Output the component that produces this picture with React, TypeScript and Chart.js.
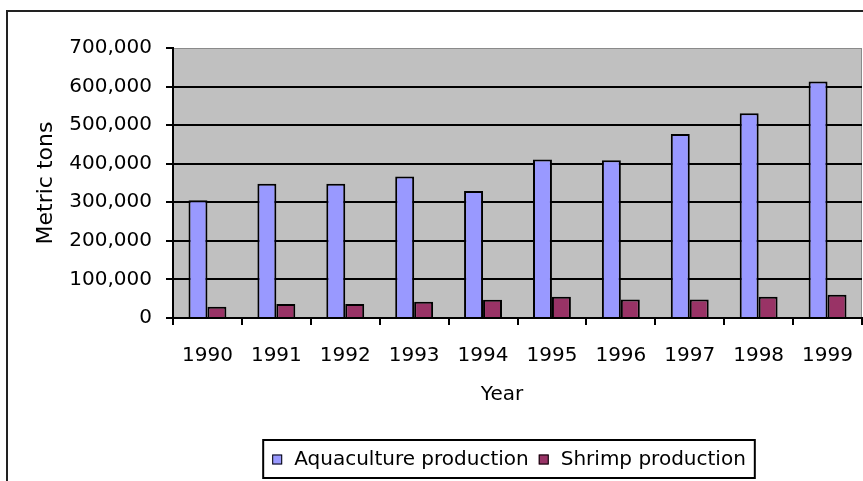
import { useEffect, useRef } from "react";
import { Chart, registerables } from "chart.js";

Chart.register(...registerables);

// Annual production, metric tons
const years = ["1990", "1991", "1992", "1993", "1994", "1995", "1996", "1997", "1998", "1999"];
const aquaculture = [305000, 348000, 348000, 367000, 329000, 411000, 409000, 477000, 531000, 613000];
const shrimp = [29000, 36000, 36000, 42000, 47000, 55000, 48000, 48000, 55000, 60000];
const seriesNames = ["Aquaculture production", "Shrimp production"];
const seriesColors = ["#9999FF", "#993366"];
const yMin = 0;
const yMax = 700000;
const yStep = 100000;
const xTitle = "Year";
const yTitle = "Metric tons";

const FONT = "'DejaVu Sans', Verdana, sans-serif";
const W = 863;
const H = 481;

// Page layout of the chart sheet
const FRAME = { x: 7, y: 11 };
const LEGEND = { cx: 509, top: 440, height: 38, pad: 9, box: 10, boxGap: 12, itemGap: 10 };
const X_TITLE_POS = { x: 502, y: 395 };

const sheetPlugin = {
  id: "sheet",
  beforeDraw(chart: any) {
    const { ctx, chartArea: a, width, height } = chart;
    ctx.save();
    ctx.fillStyle = "#ffffff";
    ctx.fillRect(0, 0, width, height);
    // chart-area border (runs past the right and bottom edges)
    ctx.strokeStyle = "#222222";
    ctx.lineWidth = 2;
    ctx.strokeRect(FRAME.x, FRAME.y, width + 200, height + 200);
    // plot area fill and thin border
    ctx.fillStyle = "#C0C0C0";
    ctx.fillRect(a.left, a.top, a.right - a.left, a.bottom - a.top);
    ctx.strokeStyle = "#8a8a8a";
    ctx.lineWidth = 1;
    ctx.strokeRect(a.left + 0.5, a.top + 0.5, a.right - a.left - 1, a.bottom - a.top);
    ctx.restore();
  },
  afterDraw(chart: any) {
    const { ctx } = chart;
    ctx.save();
    // x-axis title
    ctx.font = `20px ${FONT}`;
    ctx.fillStyle = "#000";
    ctx.textAlign = "center";
    ctx.textBaseline = "middle";
    ctx.fillText(xTitle, X_TITLE_POS.x, X_TITLE_POS.y);

    // boxed legend built from the datasets
    const ds = chart.data.datasets;
    ctx.textAlign = "left";
    const widths = ds.map((d: any) => ctx.measureText(d.label).width);
    let content = 0;
    widths.forEach((w: number, i: number) => {
      content += LEGEND.box + LEGEND.boxGap + w;
      if (i < widths.length - 1) content += LEGEND.itemGap;
    });
    const boxW = content + LEGEND.pad * 2;
    const left = LEGEND.cx - boxW / 2;
    ctx.fillStyle = "#fff";
    ctx.fillRect(left, LEGEND.top, boxW, LEGEND.height);
    ctx.strokeStyle = "#000";
    ctx.lineWidth = 2;
    ctx.strokeRect(left, LEGEND.top, boxW, LEGEND.height);
    const cy = LEGEND.top + LEGEND.height / 2 + 0.5;
    let x = left + LEGEND.pad;
    ds.forEach((d: any, i: number) => {
      ctx.fillStyle = d.backgroundColor;
      ctx.fillRect(x, cy - LEGEND.box / 2, LEGEND.box, LEGEND.box);
      ctx.strokeStyle = "#000";
      ctx.lineWidth = 1;
      ctx.strokeRect(x + 0.5, cy - LEGEND.box / 2 + 0.5, LEGEND.box - 1, LEGEND.box - 1);
      x += LEGEND.box + LEGEND.boxGap;
      ctx.fillStyle = "#000";
      ctx.fillText(d.label, x, cy);
      x += widths[i] + LEGEND.itemGap;
    });
    ctx.restore();
  },
};

export default function App() {
  const canvasRef = useRef<HTMLCanvasElement | null>(null);

  useEffect(() => {
    const canvas = canvasRef.current;
    if (!canvas) return;
    const chart = new Chart(canvas, {
      type: "bar",
      data: {
        labels: years,
        datasets: [
          {
            label: seriesNames[0],
            data: aquaculture,
            backgroundColor: seriesColors[0],
            borderColor: "#000",
            borderWidth: 2,
          },
          {
            label: seriesNames[1],
            data: shrimp,
            backgroundColor: seriesColors[1],
            borderColor: "#000",
            borderWidth: 2,
          },
        ],
      },
      options: {
        animation: false,
        responsive: false,
        maintainAspectRatio: false,
        events: [],
        datasets: { bar: { categoryPercentage: 0.55, barPercentage: 1.0 } },
        layout: { padding: { left: 0, top: 48, right: 1, bottom: 103 } },
        plugins: {
          legend: { display: false },
          tooltip: { enabled: false },
        },
        scales: {
          x: {
            offset: true,
            grid: {
              offset: true,
              drawOnChartArea: false,
              drawTicks: true,
              tickLength: 7,
              color: "#000",
              lineWidth: 2,
            },
            border: { display: true, color: "#000", width: 2 },
            ticks: {
              font: { family: FONT, size: 20 },
              color: "#000",
              padding: 19,
              maxRotation: 0,
              autoSkip: false,
            },
            afterFit(scale: any) {
              scale.height = 60;
              scale.paddingLeft = 0;
              scale.paddingRight = 0;
            },
          },
          y: {
            min: yMin,
            max: yMax,
            grid: {
              color: (c: any) => (c.tick && c.tick.value === yMax ? "rgba(0,0,0,0)" : "#000"),
              tickColor: "#000",
              lineWidth: 2,
              tickLength: 7,
            },
            border: { display: true, color: "#000", width: 2 },
            ticks: {
              stepSize: yStep,
              padding: 14,
              color: "#000",
              font: { family: FONT, size: 20 },
              callback: (v: any) => Number(v).toLocaleString("en-US"),
            },
            title: {
              display: true,
              text: yTitle,
              color: "#000",
              font: { family: FONT, size: 22 },
              padding: { top: 33, bottom: 0 },
            },
            afterFit(scale: any) {
              scale.width = 173;
              scale.paddingTop = 0;
              scale.paddingBottom = 0;
            },
          },
        },
      },
      plugins: [sheetPlugin],
    });
    return () => chart.destroy();
  }, []);

  return (
    <div style={{ position: "fixed", left: 0, top: 0, width: W, height: H, background: "#fff" }}>
      <canvas ref={canvasRef} width={W} height={H} style={{ display: "block", width: W, height: H }} />
    </div>
  );
}
